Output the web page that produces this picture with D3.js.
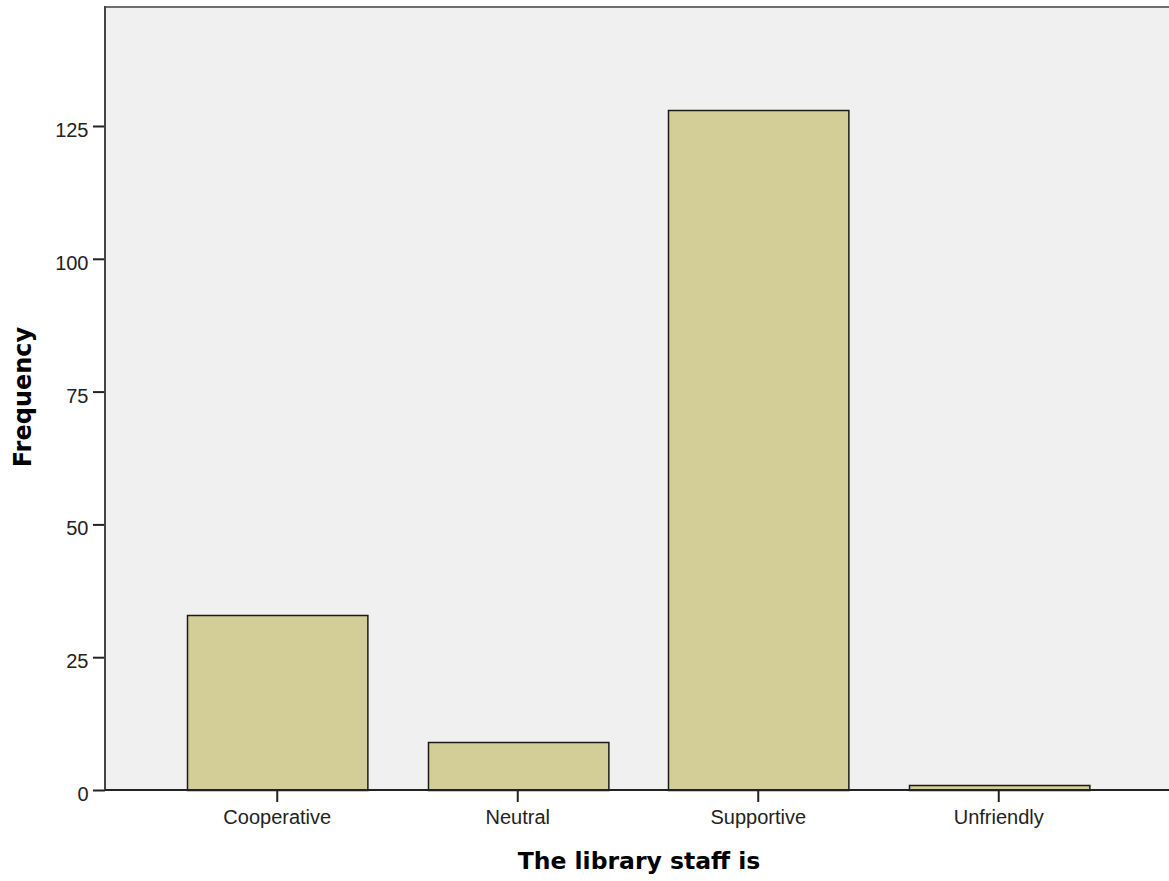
<!DOCTYPE html>
<html><head><meta charset="utf-8">
<script src="https://cdn.jsdelivr.net/npm/d3@7"></script>
<style>body{margin:0;background:#fff}svg{display:block}</style>
</head><body>
<svg id="c" width="1169" height="881"></svg>
<script>
const categories = ["Cooperative", "Neutral", "Supportive", "Unfriendly"];
const frequencies = [33, 9, 128, 1];
const yTicks = [0, 25, 50, 75, 100, 125];
const xTitle = "The library staff is";
const yTitle = "Frequency";

(function () {
const svg = d3.select("#c");
const pL = 105, pT = 7, pR = 1169, pB = 790;
const y = d3.scaleLinear().domain([0, 147.4]).range([pB, pT]);
const x = d3.scaleBand().domain(categories).range([157, 1119]).paddingInner(0.25).paddingOuter(0.125);

svg.append("rect").attr("x", pL).attr("y", pT).attr("width", pR - pL).attr("height", pB - pT).attr("fill", "#f0f0f0");
svg.append("line").attr("x1", pL).attr("x2", pR).attr("y1", pT).attr("y2", pT).attr("stroke", "#6e6e6e").attr("stroke-width", 2);

svg.selectAll("rect.bar").data(categories).enter().append("rect").attr("class", "bar")
  .attr("x", d => Math.round(x(d)) + 0.5)
  .attr("y", (d, i) => Math.round(y(frequencies[i])) + 0.5)
  .attr("width", x.bandwidth())
  .attr("height", (d, i) => Math.round(y(0)) - Math.round(y(frequencies[i])))
  .attr("fill", "#d3ce97").attr("stroke", "#1a1a1a").attr("stroke-width", 1.5);

const ya = svg.append("g").attr("transform", `translate(${pL},0)`)
  .call(d3.axisLeft(y).tickValues(yTicks).tickSize(12).tickSizeOuter(0).tickPadding(4.5));
ya.select(".domain").remove();
ya.selectAll(".tick line").attr("stroke", "#222").attr("stroke-width", 2);
ya.selectAll("text").attr("font-family", "Liberation Sans, Arial, sans-serif").attr("font-size", 20).attr("fill", "#222").attr("dy", "0.52em");
svg.append("line").attr("x1", pL).attr("x2", pL).attr("y1", pT - 1).attr("y2", pB).attr("stroke", "#444").attr("stroke-width", 2);

const xa = svg.append("g").attr("transform", `translate(0,${pB})`)
  .call(d3.axisBottom(x).tickSize(12).tickSizeOuter(0).tickPadding(8));
xa.select(".domain").remove();
xa.selectAll(".tick line").attr("stroke", "#222").attr("stroke-width", 2);
xa.selectAll("text").attr("font-family", "Liberation Sans, Arial, sans-serif").attr("font-size", 20).attr("fill", "#222");
svg.append("line").attr("x1", pL).attr("x2", pR).attr("y1", pB).attr("y2", pB).attr("stroke", "#222").attr("stroke-width", 2);

svg.append("text").attr("x", 639).attr("y", 869).attr("text-anchor", "middle")
  .attr("font-family", "DejaVu Sans, Verdana, sans-serif").attr("font-weight", "bold").attr("font-size", 23.5).attr("fill", "#000").text(xTitle);
svg.append("text").attr("transform", "translate(31,397) rotate(-90)").attr("text-anchor", "middle")
  .attr("font-family", "DejaVu Sans, Verdana, sans-serif").attr("font-weight", "bold").attr("font-size", 24).attr("fill", "#000").text(yTitle);
})();
</script>
</body></html>
